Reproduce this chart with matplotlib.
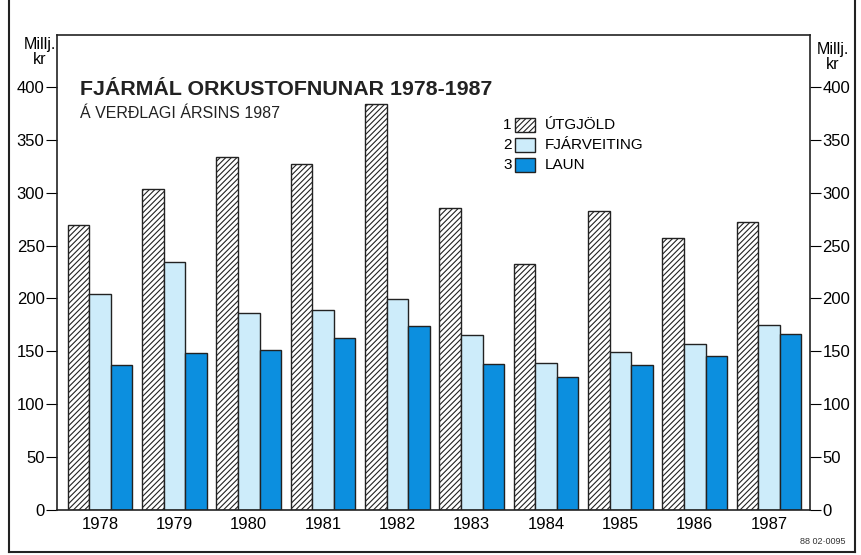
import matplotlib
matplotlib.use("Agg")
import matplotlib.pyplot as plt
from matplotlib.patches import Rectangle
from matplotlib.lines import Line2D
import numpy as np

plt.rcParams['font.family'] = ['Liberation Sans', 'DejaVu Sans']
plt.rcParams['hatch.linewidth'] = 0.8

years = ['1978', '1979', '1980', '1981', '1982', '1983', '1984', '1985', '1986', '1987']
utgjold = [269, 303, 334, 327, 384, 285, 233, 283, 257, 272]
fjarveiting = [204, 234, 186, 189, 199, 165, 139, 149, 157, 175]
laun = [137, 148, 151, 163, 174, 138, 126, 137, 146, 166]
legend_labels = ['ÚTGJÖLD', 'FJÁRVEITING', 'LAUN']
yticks = [0, 50, 100, 150, 200, 250, 300, 350, 400]

light = '#cdecfa'
dark = '#0c8fdf'

fig = plt.figure(figsize=(8.61, 5.55), dpi=100)
ax = fig.add_axes([57/861, 1-510/555, 753/861, 475/555])

x = np.arange(len(years))
w = 0.29
ax.bar(x - w, utgjold, w, facecolor='white', edgecolor='#222222', hatch='//////', linewidth=1.0)
ax.bar(x, fjarveiting, w, facecolor=light, edgecolor='#222222', linewidth=1.0)
ax.bar(x + w, laun, w, facecolor=dark, edgecolor='#222222', linewidth=1.0)

ax.set_xlim(-0.58, 9.55)
ax.set_ylim(0, 449)
ax.set_yticks(yticks)
ax.set_xticks(x)
ax.set_xticklabels(years, fontsize=12)
ax.tick_params(axis='x', length=0, pad=5)
ax.tick_params(axis='y', direction='out', length=8, labelsize=12, pad=1,
               left=True, right=True, labelleft=True, labelright=True)
for s in ax.spines.values():
    s.set_linewidth(1.2)
    s.set_color('#222222')

# title
ax.text(0.03, 0.885, 'FJÁRMÁL ORKUSTOFNUNAR 1978-1987', transform=ax.transAxes,
        fontsize=15.4, fontweight='bold', color='#222222', va='center')
ax.text(0.03, 0.835, 'Á VERÐLAGI ÁRSINS 1987', transform=ax.transAxes,
        fontsize=11.5, color='#222222', va='center')

# legend
for i, (lab, fc, h) in enumerate(zip(legend_labels, ['white', light, dark], ['//////', None, None])):
    yy = 0.81 - i * 0.042
    ax.text(0.598, yy, str(i + 1), transform=ax.transAxes, fontsize=11, va='center', ha='center')
    ax.add_patch(Rectangle((0.608, yy - 0.015), 0.027, 0.03, transform=ax.transAxes,
                           facecolor=fc, edgecolor='#222222', hatch=h, linewidth=1.0))
    ax.text(0.648, yy, lab, transform=ax.transAxes, fontsize=11, va='center')

# axis unit labels
fig.text(40/861, 1-52/555, 'Millj.\nkr', fontsize=11.5, ha='center', va='center', linespacing=1.0)
fig.text(833/861, 1-57/555, 'Millj.\nkr', fontsize=11.5, ha='center', va='center', linespacing=1.0)

# outer frame
fig.add_artist(Line2D([9/861, 9/861], [1-552/555, 1.0], transform=fig.transFigure, color='#222222', lw=1.5))
fig.add_artist(Line2D([855/861, 855/861], [1-552/555, 1.0], transform=fig.transFigure, color='#222222', lw=1.5))
fig.add_artist(Line2D([9/861, 855/861], [1-552/555, 1-552/555], transform=fig.transFigure, color='#222222', lw=1.5))

fig.text(846/861, 1-541/555, '88 02·0095', fontsize=6.5, ha='right', va='center', color='#333333')

fig.savefig('out.png', dpi=100, facecolor='white')
